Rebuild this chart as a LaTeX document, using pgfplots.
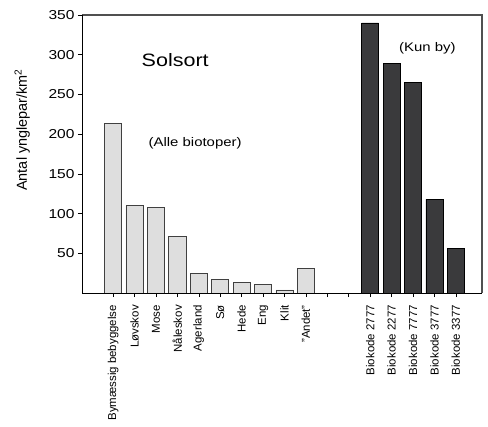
\documentclass[border=0pt]{standalone}
\usepackage{fontspec}
\setmainfont{Liberation Sans}
\newfontfamily\hfont{Liberation Sans}[FakeStretch=1.2]
\usepackage{pgfplots}
\pgfplotsset{compat=1.18}
\usetikzlibrary{calc}
\definecolor{lightbar}{HTML}{DEDEDE}
\definecolor{darkbar}{HTML}{3A3A3C}
\definecolor{framegray}{HTML}{505050}
\begin{document}
\begin{tikzpicture}
\begin{axis}[
  name=ax,
  scale only axis,
  width=400bp, height=278bp,
  xmin=-1.45, xmax=17.22,
  ymin=0, ymax=350,
  ytick={50,100,150,200,250,300,350},
  xtick={0,1,2,3,4,5,6,7,8,9,10,11,12,13,14,15,16},
  xticklabels={Bymæssig bebyggelse,Løvskov,Mose,Nåleskov,Agerland,Sø,Hede,Eng,Klit,"Andet",,,Biokode 2777,Biokode 2277,Biokode 7777,Biokode 3777,Biokode 3377},
  x tick label style={rotate=90, anchor=east, font=\fontsize{11.5}{12}\selectfont, inner sep=2pt},
  xticklabel shift=6bp,
  y tick label style={font=\hfont\fontsize{13}{14}\selectfont},
  /pgf/number format/assume math mode=true,
  tick align=outside,
  major tick length=4bp,
  tick style={black, line width=0.5pt},
  xtick pos=bottom, ytick pos=left,
  axis line style={draw=none},
  ybar, bar width=0.8, bar shift=0pt,
  clip=false,
]
\addplot[fill=lightbar, draw=black!75, line width=0.6pt] coordinates {
  (0,214) (1,110) (2,108) (3,71) (4,25) (5,17) (6,13) (7,11) (8,4) (9,31)
};
\addplot[fill=darkbar, draw=black, line width=0.6pt] coordinates {
  (12,340) (13,289) (14,265) (15,118) (16,56)
};
\draw[framegray, line width=1.8pt] (rel axis cs:0,1) -- (rel axis cs:1,1) -- (rel axis cs:1,0);
\draw[black, line width=0.8pt] (rel axis cs:0,1) -- (rel axis cs:0,0) -- (rel axis cs:1,0);
\node[font=\hfont\fontsize{18}{20}\selectfont] at (axis cs:2.9,293) {Solsort};
\node[font=\hfont\fontsize{12.5}{14}\selectfont] at (axis cs:3.83,189) {(Alle biotoper)};
\node[font=\hfont\fontsize{12.5}{14}\selectfont] at (axis cs:14.67,308) {(Kun by)};
\end{axis}
\node[rotate=90, anchor=south, inner sep=0pt, font=\fontsize{14.5}{16}\selectfont]
  at ($(ax.south west)!0.587!(ax.north west)+(-52bp,0)$) {Antal ynglepar/km\textsuperscript{2}};
\pgfresetboundingbox
\path ($(ax.south west)+(-82bp,-134bp)$) rectangle ($(ax.north east)+(6bp,15bp)$);
\end{tikzpicture}
\end{document}
